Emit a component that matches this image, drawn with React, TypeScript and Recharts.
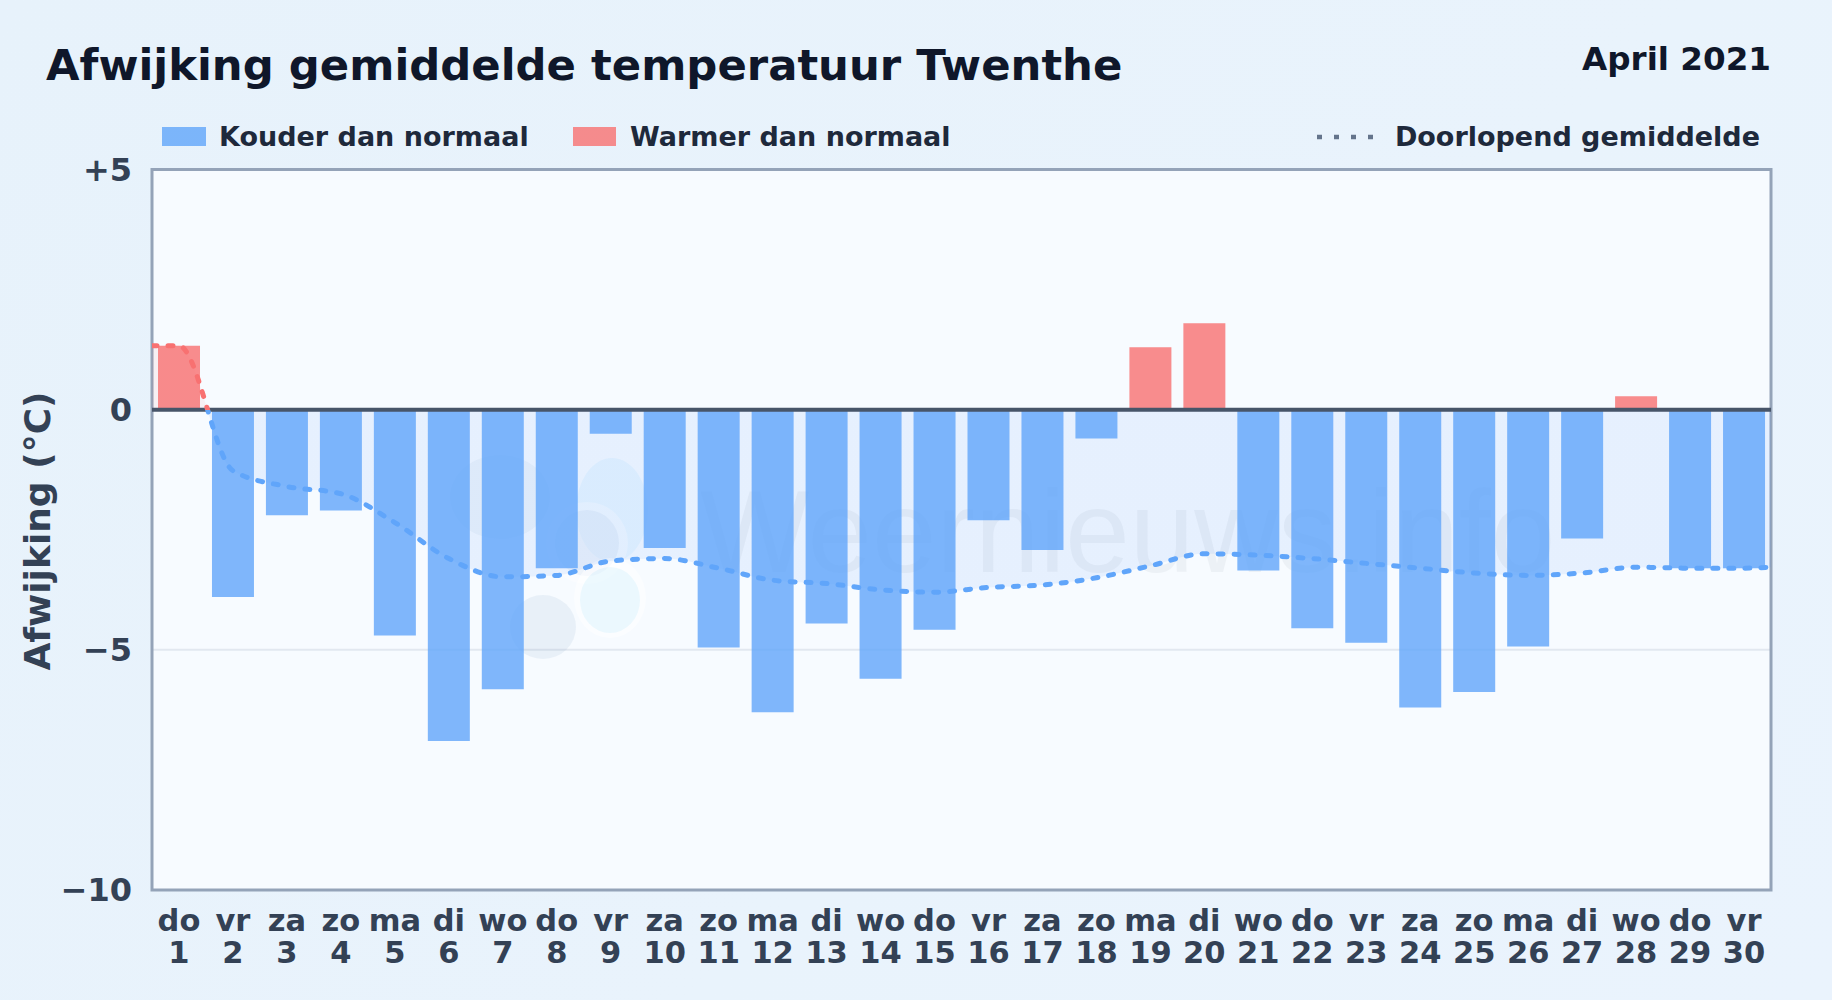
import React from 'react';
import { ComposedChart, Bar, Line, Area, XAxis, YAxis, CartesianGrid, ReferenceLine, Legend } from 'recharts';

const TITLE = 'Afwijking gemiddelde temperatuur Twenthe';
const PERIOD = 'April 2021';
const Y_LABEL = 'Afwijking (°C)';
const WATERMARK = 'Weernieuws.info';

const weekdays = ['do','vr','za','zo','ma','di','wo','do','vr','za','zo','ma','di','wo','do','vr','za','zo','ma','di','wo','do','vr','za','zo','ma','di','wo','do','vr'];
const dayNumbers = [1,2,3,4,5,6,7,8,9,10,11,12,13,14,15,16,17,18,19,20,21,22,23,24,25,26,27,28,29,30];
const deviations = [1.33,-3.9,-2.2,-2.1,-4.7,-6.9,-5.82,-3.3,-0.5,-2.88,-4.95,-6.3,-4.45,-5.6,-4.58,-2.3,-2.92,-0.6,1.3,1.8,-3.35,-4.55,-4.85,-6.2,-5.88,-4.93,-2.68,0.28,-3.3,-3.3];
const runningMean = [1.33,-1.27,-1.6,-1.75,-2.35,-3.1,-3.48,-3.45,-3.15,-3.1,-3.3,-3.55,-3.62,-3.75,-3.8,-3.7,-3.65,-3.5,-3.25,-3.0,-3.03,-3.1,-3.2,-3.3,-3.4,-3.45,-3.4,-3.28,-3.3,-3.3];
const meanAtLeftEdge = 1.33;
const meanAtRightEdge = -3.28;
const yTicks = [5, 0, -5, -10];
const yTickLabels = ['+5', '0', '−5', '−10'];

const seriesNames = { cold: 'Kouder dan normaal', warm: 'Warmer dan normaal', mean: 'Doorlopend gemiddelde' };

const barRows = dayNumbers.map((d, i) => ({
  day: d,
  cold: deviations[i] < 0 ? deviations[i] : null,
  warm: deviations[i] >= 0 ? deviations[i] : null,
}));

const meanRows = [
  { pos: 0.5, mean: meanAtLeftEdge },
  ...dayNumbers.map((d, i) => ({ pos: d, mean: runningMean[i] })),
  { pos: 30.5, mean: meanAtRightEdge },
];

const FONT = '"DejaVu Sans", sans-serif';
const W = 1832, H = 1000;
const PL = 152, PR = 1771, PT = 169.5, PB = 890;
const ZERO_OFFSET = (409.7 - PT) / (PB - PT);

const XTick = (props: any) => {
  const { x, y, payload } = props;
  const i = dayNumbers.indexOf(payload.value);
  return (
    <text x={x} textAnchor="middle" fontFamily={FONT} fontWeight={700} fontSize={30.5} fill="#334155">
      <tspan x={x} y={y + 35}>{weekdays[i]}</tspan>
      <tspan x={x} y={y + 67}>{payload.value}</tspan>
    </text>
  );
};

const YTick = (props: any) => {
  const { x, y, payload } = props;
  const label = yTickLabels[yTicks.indexOf(payload.value)];
  return (
    <text x={x} y={y + 11} textAnchor="end" fontFamily={FONT} fontWeight={700} fontSize={32} fill="#334155">{label}</text>
  );
};

const legendText: React.CSSProperties = { position: 'absolute', top: 122, fontFamily: FONT, fontWeight: 700, fontSize: 27, lineHeight: '30px', color: '#1e293b', whiteSpace: 'nowrap' };

const LegendContent = () => (
  <div style={{ position: 'relative', width: W, height: 170 }}>
    <div style={{ position: 'absolute', left: 162, top: 127, width: 44, height: 19, background: '#60a5fa', opacity: 0.8 }} />
    <div style={{ ...legendText, left: 219 }}>{seriesNames.cold}</div>
    <div style={{ position: 'absolute', left: 573, top: 127, width: 43, height: 19, background: '#f87171', opacity: 0.8 }} />
    <div style={{ ...legendText, left: 630 }}>{seriesNames.warm}</div>
    <svg style={{ position: 'absolute', left: 1310, top: 130 }} width={70} height={14}>
      <line x1={7} x2={64} y1={7} y2={7} stroke="#64748b" strokeWidth={4.5} strokeDasharray="5 12" />
    </svg>
    <div style={{ ...legendText, right: W - 1760 }}>{seriesNames.mean}</div>
  </div>
);

export default function App() {
  return (
    <div style={{ position: 'fixed', left: 0, top: 0, width: W, height: H, overflow: 'hidden', background: 'linear-gradient(135deg,#e7f2fb 0%,#e9f3fc 60%,#eaf3fd 100%)' }}>
      <ComposedChart
        width={W}
        height={H}
        data={barRows}
        margin={{ top: PT, right: W - PR, bottom: 0, left: 0 }}
        barCategoryGap={6}
      >
        <defs>
          <linearGradient id="meanStroke" gradientUnits="userSpaceOnUse" x1={0} x2={0} y1={PT} y2={PB}>
            <stop offset={ZERO_OFFSET} stopColor="#f87171" />
            <stop offset={ZERO_OFFSET} stopColor="#60a5fa" />
          </linearGradient>
          <linearGradient id="meanFill" gradientUnits="userSpaceOnUse" x1={0} x2={0} y1={PT} y2={PB}>
            <stop offset={ZERO_OFFSET} stopColor="#ef4444" stopOpacity={0.1} />
            <stop offset={ZERO_OFFSET} stopColor="#3b82f6" stopOpacity={0.15} />
          </linearGradient>
        </defs>

        <text x={46} y={80} fontFamily={FONT} fontWeight={700} fontSize={43.35} fill="#0f172a">{TITLE}</text>
        <text x={1771} y={70} textAnchor="end" fontFamily={FONT} fontWeight={700} fontSize={32.6} fill="#0f172a">{PERIOD}</text>
        <text transform="translate(50,531) rotate(-90)" textAnchor="middle" fontFamily={FONT} fontWeight={700} fontSize={36} fill="#334155">{Y_LABEL}</text>

        <CartesianGrid vertical={false} horizontalValues={[-5]} stroke="#e2e8f0" strokeWidth={2} fill="#f7fbff" fillOpacity={1} />

        <g>
          <ellipse cx={500} cy={497} rx={50} ry={42} fill="#3b6ea5" opacity={0.05} />
          <ellipse cx={612} cy={510} rx={36} ry={52} fill="#38bdf8" opacity={0.07} />
          <ellipse cx={587} cy={543} rx={41} ry={41} fill="#ffffff" opacity={0.4} />
          <ellipse cx={587} cy={543} rx={32} ry={33} fill="#3b6ea5" opacity={0.06} />
          <ellipse cx={543} cy={627} rx={33} ry={32} fill="#3b6ea5" opacity={0.08} />
          <ellipse cx={610} cy={598} rx={36} ry={40} fill="#ffffff" opacity={0.5} />
          <ellipse cx={610} cy={600} rx={30} ry={33} fill="#38bdf8" opacity={0.08} />
          <text x={700} y={572} fontFamily='"Liberation Sans", sans-serif' fontSize={116} fill="#475569" opacity={0.055}>{WATERMARK}</text>
        </g>

        <XAxis
          xAxisId="days"
          type="category"
          dataKey="day"
          interval={0}
          height={H - PB}
          axisLine={false}
          tickLine={false}
          tick={XTick}
          tickMargin={0}
        />
        <XAxis
          xAxisId="edges"
          type="number"
          dataKey="pos"
          domain={[0.5, 30.5]}
          allowDataOverflow
          hide
        />
        <YAxis
          type="number"
          domain={[-10, 5]}
          ticks={yTicks}
          interval={0}
          width={PL}
          allowDataOverflow
          axisLine={false}
          tickLine={false}
          tick={YTick}
          tickMargin={14}
        />

        <Area xAxisId="edges" data={meanRows} dataKey="mean" type="monotone" stroke="none" fill="url(#meanFill)" baseValue={0} isAnimationActive={false} dot={false} activeDot={false} legendType="none" />
        <Bar xAxisId="days" dataKey="cold" name={seriesNames.cold} stackId="dev" fill="#60a5fa" fillOpacity={0.8} isAnimationActive={false} />
        <Bar xAxisId="days" dataKey="warm" name={seriesNames.warm} stackId="dev" fill="#f87171" fillOpacity={0.8} isAnimationActive={false} />
        <ReferenceLine xAxisId="days" y={0} stroke="#475569" strokeWidth={4} />
        <Line xAxisId="edges" data={meanRows} dataKey="mean" name={seriesNames.mean} type="monotone" stroke="url(#meanStroke)" strokeWidth={5} strokeLinecap="round" strokeDasharray="5 11" dot={false} activeDot={false} isAnimationActive={false} />

        <rect x={PL} y={PT} width={PR - PL} height={PB - PT} fill="none" stroke="#94a3b8" strokeWidth={3} />

        <Legend layout="horizontal" verticalAlign="middle" align="center" wrapperStyle={{ left: 0, top: 0, width: W, height: 170, bottom: 'auto' }} content={LegendContent} />
      </ComposedChart>
    </div>
  );
}
